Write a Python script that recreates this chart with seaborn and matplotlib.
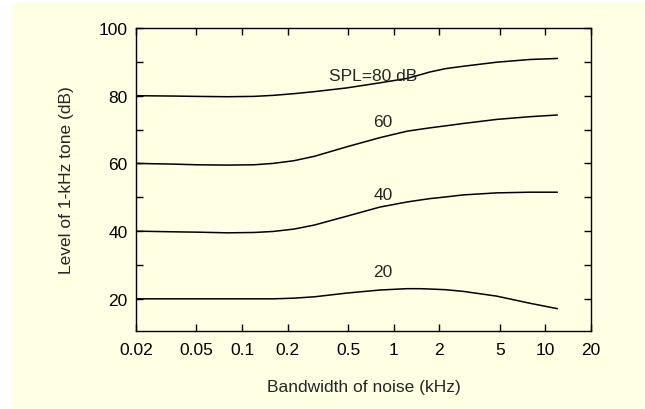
import numpy as np
import pandas as pd
import seaborn as sns
import matplotlib.pyplot as plt
from matplotlib.patches import Rectangle

# bandwidth of noise (kHz) and level of 1-kHz tone (dB)
bandwidth = [0.02, 0.035, 0.05, 0.08, 0.12, 0.16, 0.22, 0.3, 0.49, 0.81,
             1.22, 1.5, 1.73, 2.2, 2.88, 4.78, 7.9, 12]
spl80 = [80.0, 79.9, 79.8, 79.7, 79.8, 80.1, 80.6, 81.2, 82.3, 83.8,
         85.1, 86.2, 87.0, 88.0, 88.7, 89.9, 90.7, 91.0]
spl60 = [60.0, 59.8, 59.6, 59.5, 59.6, 60.0, 60.8, 62.1, 64.9, 67.6,
         69.5, 70.1, 70.5, 71.1, 71.8, 73.0, 73.8, 74.3]
spl40 = [40.0, 39.8, 39.7, 39.5, 39.6, 39.9, 40.6, 41.8, 44.4, 47.1,
         48.6, 49.2, 49.6, 50.1, 50.7, 51.3, 51.5, 51.5]
spl20 = [20.0, 20.0, 20.0, 20.0, 20.0, 20.0, 20.2, 20.6, 21.7, 22.6,
         23.0, 23.0, 22.9, 22.7, 22.2, 20.8, 18.7, 17.1]

curve_names = ["SPL=80 dB", "60", "40", "20"]
curve_values = [spl80, spl60, spl40, spl20]
label_x = [0.73, 0.85, 0.85, 0.85]
label_y = [86.1, 72.3, 50.8, 28.0]

xticks = [0.02, 0.05, 0.1, 0.2, 0.5, 1, 2, 5, 10, 20]
xticklabels = ["0.02", "0.05", "0.1", "0.2", "0.5", "1", "2", "5", "10", "20"]

df = pd.concat([
    pd.DataFrame({"bw": bandwidth, "level": v, "curve": n})
    for n, v in zip(curve_names, curve_values)
])

sns.set_style("ticks")
plt.rcParams["font.family"] = ["Liberation Sans", "DejaVu Sans"]

bg = "#FFFFE3"
fs = 12.5
fig = plt.figure(figsize=(6.45, 4.10), dpi=100, facecolor="white")
fig.add_artist(Rectangle((12 / 645, 0), 1, 406 / 410, transform=fig.transFigure,
                         facecolor=bg, edgecolor="none", zorder=-10))
ax = fig.add_axes([136 / 645, 78 / 410, 455 / 645, 303 / 410])
ax.set_facecolor(bg)

sns.lineplot(data=df, x="bw", y="level", hue="curve", units="curve", estimator=None,
             palette=["black"] * 4, legend=False, linewidth=1.1, sort=False, ax=ax)

for name, x, y in zip(curve_names, label_x, label_y):
    ax.text(x, y, name, ha="center", va="center", fontsize=fs)

ax.set_xscale("log")
ax.set_xlim(0.02, 20)
ax.set_ylim(10.5, 100)
ax.set_xticks(xticks)
ax.set_xticklabels(xticklabels)
ax.xaxis.set_minor_locator(plt.NullLocator())
ax.set_yticks([20, 40, 60, 80, 100])
ax.set_yticks([30, 50, 70, 90], minor=True)

ax.tick_params(which="both", direction="in", top=True, right=True, length=5,
               width=1.0, labelsize=fs, colors="black")
ax.tick_params(axis="x", pad=8)
ax.tick_params(axis="y", pad=6)
for s in ax.spines.values():
    s.set_linewidth(1.0)
    s.set_color("black")

ax.set_xlabel("Bandwidth of noise (kHz)", fontsize=fs, labelpad=16)
ax.set_ylabel("Level of 1-kHz tone (dB)", fontsize=fs, labelpad=18)

fig.savefig("out.png", dpi=100, facecolor=fig.get_facecolor())
